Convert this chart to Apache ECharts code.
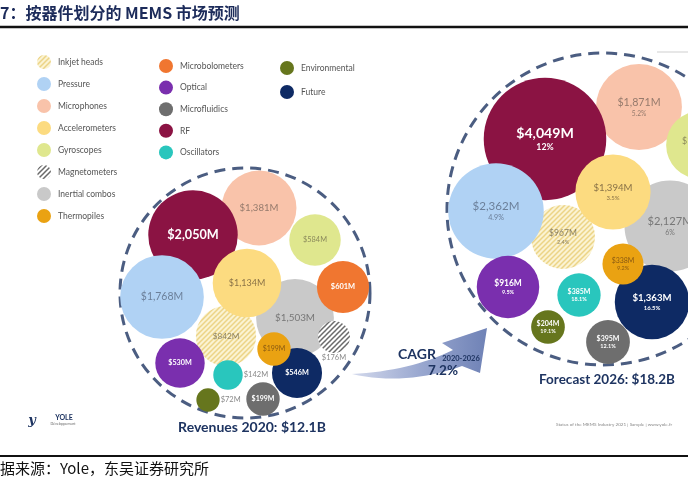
<!DOCTYPE html>
<html><head><meta charset="utf-8">
<script src="https://cdn.jsdelivr.net/npm/echarts@6/dist/echarts.min.js"></script>
<style>html,body{margin:0;padding:0;background:#fff}#c{width:688px;height:477px}</style>
</head><body><div id="c"></div>
<script>
// ---------------- data ----------------
const categories = ['Inkjet heads','Pressure','Microphones','Accelerometers','Gyroscopes','Magnetometers','Inertial combos','Thermopiles','Microbolometers','Optical','Microfluidics','RF','Oscillators','Environmental','Future'];
const revenue2020 = [842,1768,1381,1134,584,176,1503,199,601,530,199,2050,142,72,546];
const revenue2026 = [967,2362,1871,1394,1100,null,2127,338,null,916,395,4049,385,204,1363];
const cagr2026 = ['2.4%','4.9%','5.2%','3.5%','11.1%',null,'6%','9.2%',null,'9.5%','12.1%','12%','18.1%','19.1%','16.5%'];
const totalLabels = ['Revenues 2020: $12.1B','Forecast 2026: $18.2B'];
const cagrTexts = ['CAGR','2020-2026','7.2%'];
const titleText = '7：按器件划分的 MEMS 市场预测';
const sourceText = '据来源：Yole，东吴证券研究所';
const footerText = 'Status of the MEMS Industry 2021 | Sample | www.yole.fr';
const legendColumns = [
  ['Inkjet heads','Pressure','Microphones','Accelerometers','Gyroscopes','Magnetometers','Inertial combos','Thermopiles'],
  ['Microbolometers','Optical','Microfluidics','RF','Oscillators'],
  ['Environmental','Future']
];

// ---------------- layout (bubble centres in px, packed as in the picture) ----------------
const layout2020 = [[226,336],[162,297],[259,208],[247,283],[315,240],[334,337],[295,318],[274,349],[343,287],[180,363],[263,399],[193,235],[228,375],[208,400],[297,373]];
const layout2026 = [[563,237],[496,211],[639,107],[613,192],[700,145],null,[670,226],[623,264],null,[508,287],[608,342],[545,139],[579,295],[548,327],[652,302]];
const ringCentres = [[245,293],[603,209]];
const ringDiameters = [250,312];
const drawOrder = ['Inertial combos','Microphones','Gyroscopes','RF','Inkjet heads','Pressure','Accelerometers','Microbolometers','Magnetometers','Future','Thermopiles','Optical','Oscillators','Microfluidics','Environmental'];

// ---------------- styles ----------------
function hatchCanvas(bg, fg){
  const c=document.createElement('canvas'); c.width=c.height=5;
  const g=c.getContext('2d'); g.fillStyle=bg; g.fillRect(0,0,5,5);
  g.strokeStyle=fg; g.lineWidth=1.5; g.beginPath();
  g.moveTo(-1,6); g.lineTo(6,-1); g.moveTo(-1,1); g.lineTo(1,-1); g.moveTo(4,6); g.lineTo(6,4);
  g.stroke(); return c;
}
const hatches = {
  'Inkjet heads': hatchCanvas('#fbf3d2','#ecd486'),
  'Magnetometers': hatchCanvas('#ffffff','#6a6a6a')
};
function hatchFill(name, scale){ return {image: hatches[name], repeat:'repeat', scaleX: scale, scaleY: scale}; }
const fill = {
 'Pressure':'#b0d2f4','Microphones':'#f9c3aa','Accelerometers':'#fcdb80','Gyroscopes':'#dfe78e',
 'Inertial combos':'#c9c9c9','Thermopiles':'#eaa212','Microbolometers':'#f07630','Optical':'#7a2fae',
 'Microfluidics':'#6e6e6e','RF':'#8b1343','Oscillators':'#29c6bd','Environmental':'#66761d','Future':'#0e2a64'
};
const labelColor = {
 'Inkjet heads':'#8c8160','Pressure':'#6b7f99','Microphones':'#957a6c','Accelerometers':'#8a7347','Gyroscopes':'#8b8a5c',
 'Magnetometers':'#8a8a8a','Inertial combos':'#777777','Thermopiles':'#8a5a12'
};
const outside2020 = {'Oscillators':'right','Environmental':'right','Magnetometers':'bottom'};
const FONT = 'Lato';
const NAVY = '#1e3461';

function radius(v){ return 4 + 0.9*Math.sqrt(v); }
function money(v){ return '$' + v.toLocaleString('en-US') + 'M'; }

function pointItem(name, year, pos, v, pct){
  const r = radius(v);
  const fs = Math.max(7, Math.min(14.5, 2.5 + 0.19*r));
  const white = !labelColor[name];
  const col = labelColor[name] || '#ffffff';
  const item = {value:[pos[0], pos[1], v], name: name};
  if (hatches[name]) item.itemStyle = {color: hatchFill(name, 1/r)};
  if (year === 2020) {
    const out = outside2020[name];
    item.label = out ? {position: out, distance: 1, color:'#8a8a8a', fontSize:7.5, formatter: money(v)}
                     : {position:'inside', color: col, fontSize: name==='RF'?fs*1.15:fs,
                        fontWeight: white?'bold':'normal', formatter: money(v)};
  } else {
    const pfs = Math.max(5.5, fs*0.62);
    item.label = {position:'inside', color: col, formatter: '{v|' + money(v) + '}\n{p|' + pct + '}',
      rich: {v:{fontSize:fs, fontFamily:FONT, color:col, fontWeight: white?'bold':'normal', lineHeight: fs*1.2, align:'center'},
             p:{fontSize:pfs, fontFamily:FONT, color:col, fontWeight: white?'bold':'normal', lineHeight: pfs*1.35, align:'center'}}};
  }
  return item;
}

const series = [];
series.push({
  type:'scatter', name:'ring', silent:true, clip:false, z:1,
  data: ringCentres.map((c,i)=>({value:[c[0],c[1]], symbolSize: ringDiameters[i]})),
  itemStyle:{color:'rgba(0,0,0,0)', borderColor:NAVY, borderWidth:3, borderType:[11,7]},
  label:{show:false}
});
drawOrder.forEach(name=>{
  const i = categories.indexOf(name);
  const data = [pointItem(name, 2020, layout2020[i], revenue2020[i], null)];
  if (revenue2026[i] != null && layout2026[i]) data.push(pointItem(name, 2026, layout2026[i], revenue2026[i], cagr2026[i]));
  series.push({
    type:'scatter', name, clip:false, silent:true, z:2,
    symbol:'circle',
    symbolSize: d => 2*radius(d[2]),
    itemStyle:{color: hatches[name] ? hatchFill(name, 1) : fill[name], opacity:1},
    label:{show:true, fontFamily:FONT},
    emphasis:{disabled:true},
    data
  });
});

const legendLayout = [
  {left:37, top:55, itemGap:8},
  {left:159, top:59, itemGap:7.6},
  {left:280, top:61, itemGap:10}
];
const legends = legendColumns.map((col,i)=>({
  data: col.map(n=>({name:n, icon:'circle'})),
  orient:'vertical', left:legendLayout[i].left, top:legendLayout[i].top,
  itemGap:legendLayout[i].itemGap, itemWidth:14, itemHeight:14, padding:0,
  selectedMode:false,
  textStyle:{fontSize:8.5, color:'#555', fontFamily:FONT, padding:[0,0,0,2]}
}));

function txt(x,y,text,font,fill,align){
  return {type:'text', z:10, silent:true, style:{x, y, text, font, fill, align:align||'left', textAlign:align||'left', verticalAlign:'middle', textVerticalAlign:'middle'}};
}
// curved arrow outline sampled from quadratic curves (decoration)
function quad(p0,p1,p2,n){ const pts=[]; for(let k=0;k<=n;k++){const t=k/n,u=1-t; pts.push([u*u*p0[0]+2*u*t*p1[0]+t*t*p2[0], u*u*p0[1]+2*u*t*p1[1]+t*t*p2[1]]);} return pts; }
const arrowPts = [].concat(
  quad([352,374],[405,386],[462,366],16),
  [[480,373],[487,328],[442,343]],
  quad([453,350],[410,371],[352,374],16)
);

const graphics = [
  txt(0, 13, titleText, 'bold 16px "Noto Sans CJK SC"', '#1c2b5a'),
  {type:'line', silent:true, shape:{x1:0,y1:27,x2:688,y2:27}, style:{stroke:'#111', lineWidth:2.5}},
  {type:'line', silent:true, shape:{x1:657,y1:52,x2:688,y2:52}, style:{stroke:'#cfcfcf', lineWidth:1}},
  {type:'line', silent:true, shape:{x1:0,y1:456,x2:688,y2:456}, style:{stroke:'#111', lineWidth:2}},
  txt(0, 468, sourceText, '15px "Noto Sans CJK SC"', '#111'),
  {type:'polygon', silent:true, z:3, shape:{points: arrowPts},
   style:{fill:new echarts.graphic.LinearGradient(0,0,1,0,[{offset:0,color:'#d3d9ec'},{offset:0.5,color:'#9aa8d0'},{offset:1,color:'#6f82b6'}])}},
  txt(417, 354, cagrTexts[0], 'bold 14px ' + FONT, NAVY, 'center'),
  txt(461, 359, cagrTexts[1], 'bold 7.5px ' + FONT, NAVY, 'center'),
  txt(443, 371, cagrTexts[2], 'bold 13.5px ' + FONT, NAVY, 'center'),
  txt(252, 427, totalLabels[0], 'bold 14px ' + FONT, NAVY, 'center'),
  txt(607, 380, totalLabels[1], 'bold 13.5px ' + FONT, NAVY, 'center'),
  txt(556, 425, footerText, '4.6px ' + FONT, '#888'),
  txt(32, 421, 'y', 'italic bold 13px "DejaVu Serif"', NAVY, 'center'),
  txt(64, 418, 'YOLE', 'bold 7px ' + FONT, NAVY, 'center'),
  txt(63, 424, 'Développement', '3.6px ' + FONT, '#666', 'center')
];

const chart = echarts.init(document.getElementById('c'), null, {renderer:'canvas'});
chart.setOption({
  backgroundColor:'#ffffff',
  animation:false,
  grid:{left:0,right:0,top:0,bottom:0},
  xAxis:{type:'value', min:0, max:688, show:false},
  yAxis:{type:'value', min:0, max:477, inverse:true, show:false},
  legend: legends,
  series,
  graphic: graphics
});
</script></body></html>
